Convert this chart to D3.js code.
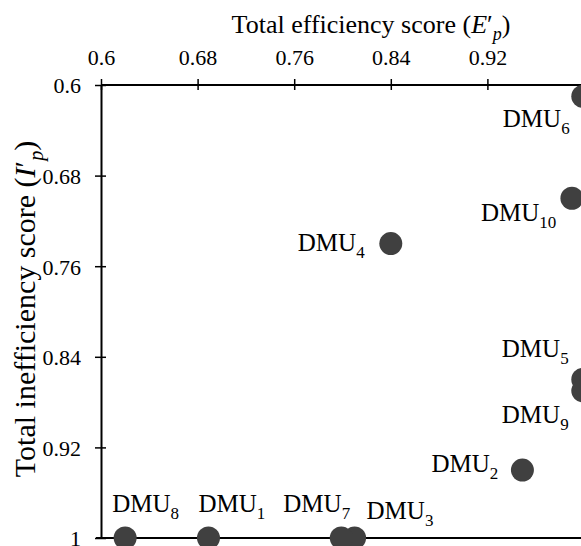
<!DOCTYPE html>
<html>
<head>
<meta charset="utf-8">
<script src="https://cdn.jsdelivr.net/npm/d3@7"></script>
<style>
  body { margin: 0; background: #fff; }
  svg { display: block; font-family: "Liberation Serif", "Times New Roman", serif; }
</style>
</head>
<body>
<div class="chart"></div>
<script>
// efficiency (x) and inefficiency (y) scores for each DMU
var dmus = ["1", "2", "3", "4", "5", "6", "7", "8", "9", "10"];
var effScore = [0.689, 0.949, 0.81, 0.84, 0.999, 0.999, 0.799, 0.62, 0.999, 0.99];
var ineffScore = [1, 0.94, 1, 0.74, 0.86, 0.61, 1, 1, 0.87, 0.70];
var xTicks = [0.6, 0.68, 0.76, 0.84, 0.92];
var yTicks = [0.6, 0.68, 0.76, 0.84, 0.92, 1];

// where each label sits relative to its point (pixels)
var labelOffsets = [[-10, -26], [-91, 2], [12, -19], [-93, 7], [-81, -22],
                    [-80, 31], [-58, -26], [-13, -26], [-81, 32], [-91, 23]];

var width = 581, height = 546;

var svg = d3.select(".chart").append("svg")
  .attr("width", width)
  .attr("height", height);

var x = d3.scaleLinear().domain([0.6, 1]).range([101, 584]);
var y = d3.scaleLinear().domain([0.6, 1]).range([85, 538]);

var fmt = function(d) { return +d.toFixed(2); };

// top x axis
var xAxis = svg.append("g")
  .attr("transform", "translate(0," + y(0.6) + ")")
  .call(d3.axisTop(x).tickValues(xTicks).tickFormat(fmt).tickSizeInner(6).tickSizeOuter(0).tickPadding(14));

// left y axis
var yAxis = svg.append("g")
  .attr("transform", "translate(" + x(0.6) + ",0)")
  .call(d3.axisLeft(y).tickValues(yTicks).tickFormat(fmt).tickSizeInner(6).tickSizeOuter(0).tickPadding(14));

// domain runs on to the right edge
xAxis.select(".domain").attr("d", "M" + x(0.6) + ",0H" + width);

xAxis.selectAll(".tick line").attr("y1", 5);
yAxis.selectAll(".tick line").attr("x1", 5);

[xAxis, yAxis].forEach(function(a) {
  a.select(".domain").attr("stroke", "#000").attr("stroke-width", 2);
  a.selectAll(".tick line").attr("stroke", "#000").attr("stroke-width", 1.5);
  a.selectAll(".tick text").attr("fill", "#000").style("font-size", "22px").style("font-family", "Liberation Serif");
});
yAxis.selectAll(".tick text").attr("dy", "0.36em");

// bottom line at y = 1
svg.append("line")
  .attr("x1", x(0.6) - 5).attr("x2", width)
  .attr("y1", y(1)).attr("y2", y(1))
  .attr("stroke", "#000").attr("stroke-width", 2);

// axis titles
var xt = svg.append("text")
  .attr("x", 371).attr("y", 33)
  .attr("text-anchor", "middle")
  .style("font-size", "26px");
xt.append("tspan").text("Total efficiency score (");
xt.append("tspan").style("font-style", "italic").text("E");
xt.append("tspan").text("\u2032");
xt.append("tspan").attr("dy", 7).style("font-size", "18px").style("font-style", "italic").text("p");
xt.append("tspan").attr("dy", -7).text(")");

var yt = svg.append("text")
  .attr("transform", "translate(35,309) rotate(-90)")
  .attr("text-anchor", "middle")
  .style("font-size", "30px");
yt.append("tspan").text("Total inefficiency score (");
yt.append("tspan").style("font-style", "italic").text("I");
yt.append("tspan").text("\u2032");
yt.append("tspan").attr("dy", 8).style("font-size", "20px").style("font-style", "italic").text("p");
yt.append("tspan").attr("dy", -8).text(")");

// points
var pts = dmus.map(function(d, i) {
  return { name: d, e: effScore[i], u: ineffScore[i], off: labelOffsets[i] };
});

svg.append("g").selectAll("circle")
  .data(pts)
  .enter()
  .append("circle")
  .attr("cx", function(d) { return x(d.e); })
  .attr("cy", function(d) { return y(d.u); })
  .attr("r", 11.5)
  .attr("fill", "#404040");

var labels = svg.append("g").selectAll("text")
  .data(pts)
  .enter()
  .append("text")
  .attr("x", function(d) { return x(d.e) + d.off[0]; })
  .attr("y", function(d) { return y(d.u) + d.off[1]; })
  .style("font-size", "25px")
  .attr("fill", "#000");
labels.append("tspan").text("DMU");
labels.append("tspan")
  .attr("dy", 7)
  .style("font-size", "17px")
  .text(function(d) { return d.name; });
</script>
</body>
</html>
